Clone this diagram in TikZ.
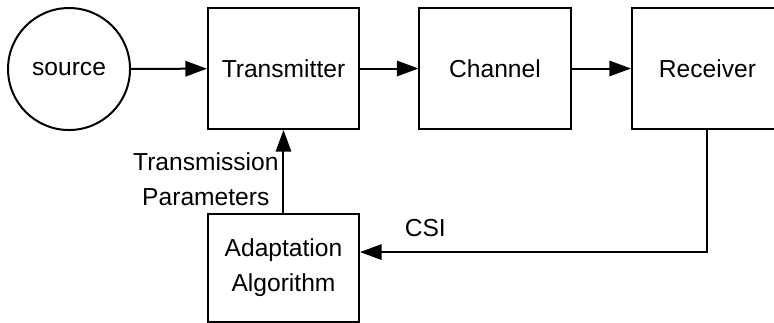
\documentclass[tikz,border=0pt]{standalone}
\usepackage{fontspec}
\setmainfont{Liberation Sans}
\usetikzlibrary{arrows.meta,positioning}
\newcommand{\twelve}{\fontsize{12.3}{17.5}\selectfont}
\tikzset{
 every node/.append style={font=\twelve,align=center},
 block/.style={draw,line width=1pt,minimum width=2.654cm,minimum height=2.126cm,inner sep=0pt},
 src/.style={draw,circle,line width=1pt,minimum size=2.144cm,inner sep=0pt},
 flow/.style={-{Triangle[length=3.8mm,width=2.7mm]},draw,line width=1pt},
 label/.style={inner sep=2pt},
}
\begin{document}
\begin{tikzpicture}

\useasboundingbox (0,0) rectangle (13.602,-5.676);
\node[src] (source) at (1.213,-1.213) {source};
\node[block] (tx) at (4.982,-1.204) {Transmitter};
\node[block] (chan) at (8.699,-1.204) {Channel};
\node[block] (rx) at (12.433,-1.204) {Receiver};
\node[block,minimum height=1.898cm] (adapt) at (4.982,-4.710) {Adaptation\\Algorithm};

\draw[flow] (source) -- (tx);
\draw[flow] (tx) -- (chan);
\draw[flow] (chan) -- (rx);
\draw[flow] (adapt) -- node[label,left,yshift=-4pt] {Transmission\\Parameters} (tx);
\draw[flow] (rx.south) |- node[label,pos=.906,above=5pt] {CSI} ([yshift=.28cm]adapt.east);

\end{tikzpicture}
\end{document}
